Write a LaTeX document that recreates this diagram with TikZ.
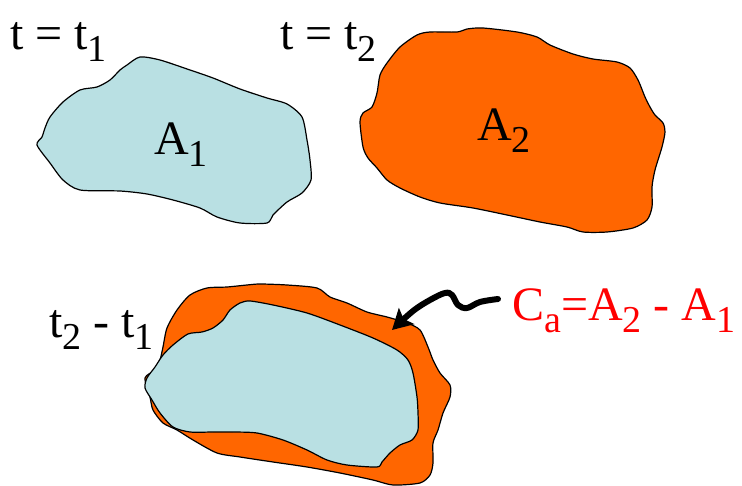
\documentclass[tikz,border=0pt]{standalone}
\usepackage{fontspec}
\setmainfont{Liberation Serif}
\usetikzlibrary{arrows.meta}
\definecolor{blobblue}{RGB}{185,224,227}
\definecolor{bloborange}{RGB}{255,102,0}
\definecolor{labred}{RGB}{255,0,0}
\newcommand{\mysub}[1]{\raisebox{-12pt}{\fontsize{38}{38}\selectfont #1}}
\tikzset{
  lbl/.style={anchor=base west, inner sep=0pt, font=\fontsize{48}{48}\selectfont},
  blobline/.style={draw=black, line width=1.2pt},
}
\begin{document}
\begin{tikzpicture}[x=1pt,y=-1pt]
\useasboundingbox (0,0) rectangle (742,486);
% A1 blob
\filldraw[blobline, fill=blobblue] plot[smooth cycle, tension=0.45] coordinates {
(127,65) (140,57) (160,60) (190,70) (213,78) (240,89) (267,98) (287,104) (302,117)
(307,140) (310,160) (311,180) (302,193) (287,202) (273,215) (267,223) (240,223)
(217,217) (200,208) (173,200) (147,194) (120,191) (80,190) (63,180) (50,163)
(37,145) (42,137) (45,128) (50,117) (63,102) (80,90) (97,87) (110,80) (120,70)};
% A2 blob
\filldraw[blobline, fill=bloborange] plot[smooth cycle, tension=0.45] coordinates {
(360,122) (363,113) (372,107) (377,93) (380,75) (387,63) (400,47) (417,35) (430,32)
(457,32) (467,29) (483,28) (517,32) (537,37) (550,45) (573,54) (593,59) (617,62)
(630,68) (638,80) (645,97) (650,107) (655,115) (663,123) (665,132) (662,147)
(655,170) (652,187) (652,207) (647,220) (633,228) (607,232) (583,232) (567,227)
(540,222) (507,215) (473,208) (440,203) (420,197) (400,188) (387,180) (377,168)
(368,158) (363,147)};
% combined: outer
\filldraw[blobline, fill=bloborange] plot[smooth cycle, tension=0.45] coordinates {
(145,378) (155,370) (160,360) (163,347) (167,328) (177,310) (190,295) (207,288)
(227,287) (247,285) (260,284) (287,285) (317,288) (330,297) (347,303) (367,312)
(387,317) (407,323) (420,330) (428,347) (433,360) (440,373) (450,385) (450,397)
(443,413) (438,430) (433,443) (433,463) (430,475) (420,483) (393,485) (373,480)
(340,473) (307,467) (273,462) (240,457) (217,453) (193,440) (177,430) (163,423)
(153,410) (150,397)};
% combined: inner
\filldraw[blobline, fill=blobblue] plot[smooth cycle, tension=0.45] coordinates {
(145,388) (147,378) (155,367) (163,355) (173,345) (188,334) (202,332) (213,328)
(223,320) (230,310) (240,303) (250,301) (273,305) (307,313) (340,325) (373,338)
(397,350) (408,360) (413,373) (417,397) (418,413) (418,430) (412,440) (400,445)
(390,453) (382,462) (377,467) (347,465) (327,460) (307,450) (283,440) (257,433)
(233,432) (213,432) (190,432) (173,427) (160,413) (152,400)};
% labels
\node[lbl] (t1) at (10,50) {t = t\mysub{1}};
\node[lbl] (t2) at (280,50) {t = t\mysub{2}};
\node[lbl] (a1) at (154,155) {A\mysub{1}};
\node[lbl] (a2) at (477,141) {A\mysub{2}};
\node[lbl] (dt) at (49,338) {t\mysub{2} - t\mysub{1}};
\node[lbl, text=labred] (ca) at (512,321) {C\mysub{a}=A\mysub{2} - A\mysub{1}};
% arrow
\coordinate (arrS) at (498,299);
\coordinate (arrE) at (392,330);
\draw[line width=6pt, line cap=round, -{Stealth[length=20pt,width=22pt,inset=4pt]}]
  plot[smooth, tension=0.6] coordinates {(arrS) (480,302) (467,308) (458,305) (452,295) (445,293) (430,300) (413,311) (arrE)};
\end{tikzpicture}
\end{document}
